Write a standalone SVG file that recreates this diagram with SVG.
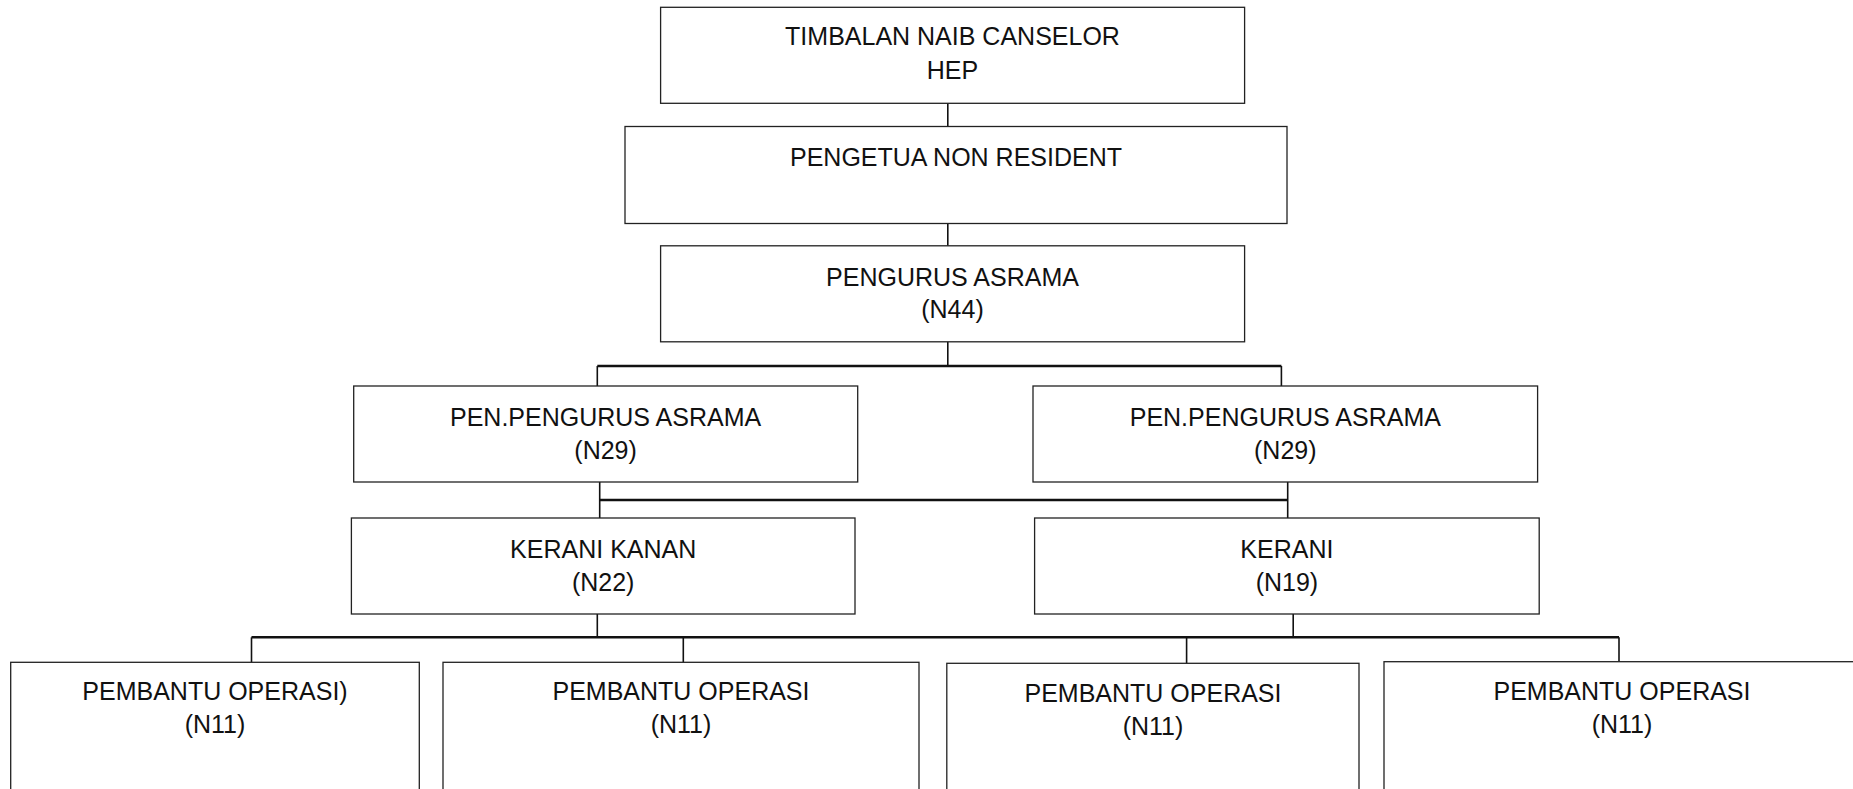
<svg xmlns="http://www.w3.org/2000/svg" width="1853" height="789" viewBox="0 0 1853 789">
<style>
.box{fill:#fff;stroke:#222;stroke-width:1.3}
.t{font-family:"Liberation Sans",Arial,sans-serif;font-size:25px;fill:#111;text-anchor:middle}
.c line{stroke:#111;stroke-width:1.6}
.c line.h{stroke-width:2.6}
</style>
<rect width="1853" height="789" fill="#fff"/>
<g class="c" id="connectors">
<line x1="947.8" y1="103" x2="947.8" y2="126.5"/>
<line x1="947.8" y1="223.4" x2="947.8" y2="245.8"/>
<line x1="947.8" y1="341.5" x2="947.8" y2="366"/>
<line class="h" x1="597.3" y1="366" x2="1281.4" y2="366"/>
<line x1="597.3" y1="366" x2="597.3" y2="386"/>
<line x1="1281.4" y1="366" x2="1281.4" y2="386"/>
<line x1="599.7" y1="482" x2="599.7" y2="524"/>
<line x1="1287.7" y1="482" x2="1287.7" y2="518"/>
<line class="h" x1="599.7" y1="500" x2="1287.7" y2="500"/>
<line x1="597.3" y1="614" x2="597.3" y2="637.3"/>
<line x1="1293.2" y1="614" x2="1293.2" y2="637.3"/>
<line class="h" x1="251.5" y1="637.3" x2="1619" y2="637.3"/>
<line x1="251.5" y1="637.3" x2="251.5" y2="662.3"/>
<line x1="683.3" y1="637.3" x2="683.3" y2="662.3"/>
<line x1="1186.6" y1="637.3" x2="1186.6" y2="663.3"/>
<line x1="1619" y1="637.3" x2="1619" y2="661.7"/>
</g>
<g id="n1"><rect class="box" x="660.6" y="7.3" width="584" height="96"/>
<text class="t" x="952.5" y="45">TIMBALAN NAIB CANSELOR</text><text class="t" x="952.5" y="79">HEP</text></g>
<g id="n2"><rect class="box" x="625" y="126.5" width="662" height="97"/>
<text class="t" x="956" y="166">PENGETUA NON RESIDENT</text></g>
<g id="n3"><rect class="box" x="660.6" y="245.8" width="584" height="96"/>
<text class="t" x="952.5" y="285.5">PENGURUS ASRAMA</text><text class="t" x="952.5" y="318">(N44)</text></g>
<g id="n4"><rect class="box" x="353.7" y="386" width="504" height="96"/>
<text class="t" x="605.6" y="425.5">PEN.PENGURUS ASRAMA</text><text class="t" x="605.6" y="459">(N29)</text></g>
<g id="n5"><rect class="box" x="1033" y="386" width="504.6" height="96"/>
<text class="t" x="1285.3" y="425.5">PEN.PENGURUS ASRAMA</text><text class="t" x="1285.3" y="459">(N29)</text></g>
<g id="n6"><rect class="box" x="351.4" y="518" width="503.6" height="96"/>
<text class="t" x="603.2" y="558">KERANI KANAN</text><text class="t" x="603.2" y="591">(N22)</text></g>
<g id="n7"><rect class="box" x="1034.6" y="518" width="504.6" height="96"/>
<text class="t" x="1286.9" y="558">KERANI</text><text class="t" x="1286.9" y="591">(N19)</text></g>
<g id="n8"><rect class="box" x="10.7" y="662.3" width="408.6" height="140"/>
<text class="t" x="215" y="700">PEMBANTU OPERASI)</text><text class="t" x="215" y="733">(N11)</text></g>
<g id="n9"><rect class="box" x="443" y="662.3" width="476" height="140"/>
<text class="t" x="681" y="700">PEMBANTU OPERASI</text><text class="t" x="681" y="733">(N11)</text></g>
<g id="n10"><rect class="box" x="946.8" y="663.3" width="412.2" height="140"/>
<text class="t" x="1153" y="702">PEMBANTU OPERASI</text><text class="t" x="1153" y="735">(N11)</text></g>
<g id="n11"><rect class="box" x="1384" y="661.7" width="476" height="140"/>
<text class="t" x="1622" y="700">PEMBANTU OPERASI</text><text class="t" x="1622" y="733">(N11)</text></g>
</svg>
